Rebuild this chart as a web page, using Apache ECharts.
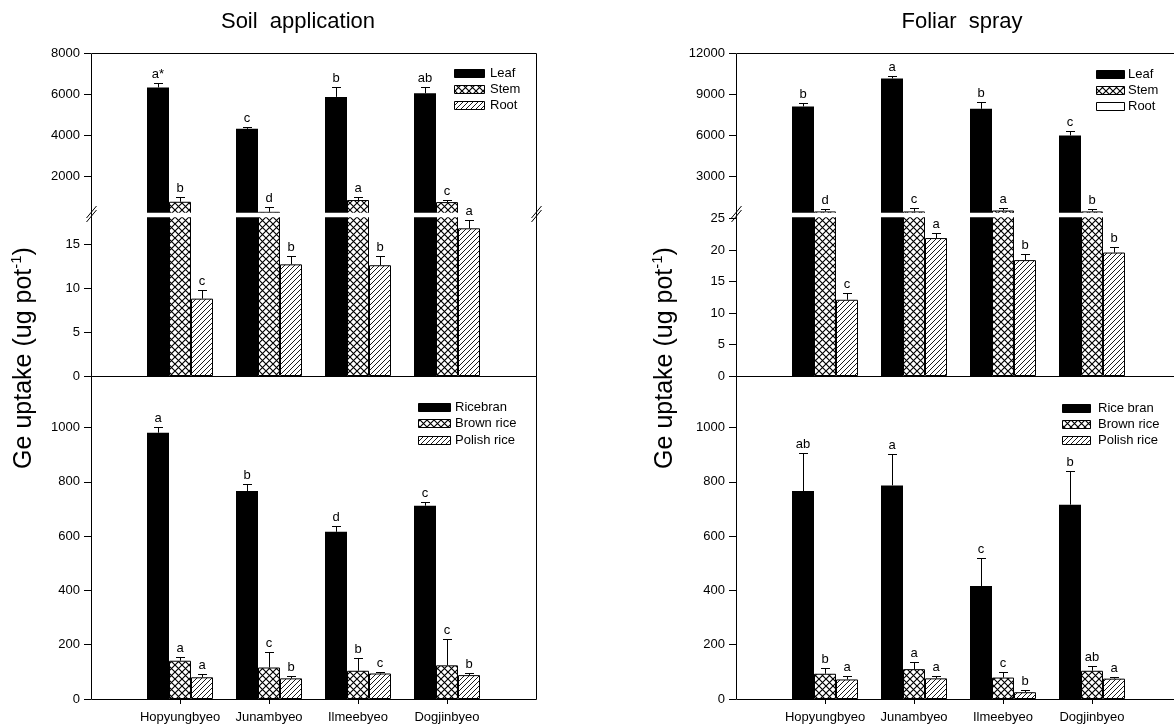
<!DOCTYPE html>
<html><head><meta charset="utf-8">
<script src="https://cdn.jsdelivr.net/npm/echarts@6/dist/echarts.min.js"></script>
<style>html,body{margin:0;padding:0;background:#fff}#c{width:1174px;height:727px}</style>
</head><body><div id="c"></div>
<script>
// ---------------- DATA ----------------
const categories = ['Hopyungbyeo', 'Junambyeo', 'Ilmeebyeo', 'Dogjinbyeo'];

// Soil application (left)
const soilLeaf = [6320, 4300, 5860, 6040];
const soilLeafErr = [215, 110, 460, 290];
const soilLeafLetters = ['a*', 'c', 'b', 'ab'];
const soilStem = [745, 255, 830, 730];
const soilStemErr = [245, 245, 160, 125];
const soilStemLetters = ['b', 'd', 'a', 'c'];
const soilRoot = [8.8, 12.7, 12.6, 16.8];
const soilRootErr = [1.0, 0.9, 1.1, 0.95];
const soilRootLetters = ['c', 'b', 'b', 'a'];
const soilRicebran = [981, 766, 616, 712];
const soilRicebranErr = [22, 26, 21, 13];
const soilRicebranLetters = ['a', 'b', 'd', 'c'];
const soilBrown = [141, 116, 104, 124];
const soilBrownErr = [15, 59, 46, 98];
const soilBrownLetters = ['a', 'c', 'b', 'c'];
const soilPolish = [80, 76, 94, 88];
const soilPolishErr = [11, 9, 6, 6];
const soilPolishLetters = ['a', 'b', 'c', 'b'];

// Foliar spray (right)
const folLeaf = [8090, 10140, 7920, 5970];
const folLeafErr = [250, 150, 490, 345];
const folLeafLetters = ['b', 'a', 'b', 'c'];
const folStem = [410, 410, 480, 410];
const folStemErr = [200, 250, 180, 175];
const folStemLetters = ['d', 'c', 'a', 'b'];
const folRoot = [12.1, 21.9, 18.4, 19.6];
const folRootErr = [1.0, 0.8, 1.0, 0.9];
const folRootLetters = ['c', 'a', 'b', 'b'];
const folRicebran = [766, 787, 416, 716];
const folRicebranErr = [141, 115, 102, 125];
const folRicebranLetters = ['ab', 'a', 'c', 'b'];
const folBrown = [93, 110, 79, 104];
const folBrownErr = [22, 26, 19, 16];
const folBrownLetters = ['b', 'a', 'c', 'ab'];
const folPolish = [72, 76, 25, 75];
const folPolishErr = [11, 10, 7, 5];
const folPolishLetters = ['a', 'a', 'b', 'a'];

// tick labels
const soilUpperTicks = [2000, 4000, 6000, 8000];
const folUpperTicks = [3000, 6000, 9000, 12000];
const soilBreakTicks = [0, 5, 10, 15];
const folBreakTicks = [0, 5, 10, 15, 20, 25];
const bottomTicks = [0, 200, 400, 600, 800, 1000];

const titles = ['Soil  application', 'Foliar  spray'];
const upperLegend = [['Leaf', 'Stem', 'Root'], ['Leaf', 'Stem', 'Root']];
const lowerLegend = [['Ricebran', 'Brown rice', 'Polish rice'], ['Rice bran', 'Brown rice', 'Polish rice']];

// ---------------- LAYOUT / STYLE ----------------
const FONT = '"Liberation Sans", Arial, sans-serif';
const GX = [91, 736], GW = 445;
const SEG_TOP = 53, SEG_H = 162, LOW_TOP = 216, LOW_H = 160, BOT_TOP = 376, BOT_H = 323;
const BAR_W = 22;

function makeCross() {
  const c = document.createElement('canvas'); c.width = c.height = 7;
  const g = c.getContext('2d'); g.fillStyle = '#fff'; g.fillRect(0, 0, 7, 7);
  g.strokeStyle = '#000'; g.lineWidth = 1.15; g.beginPath();
  g.moveTo(0, 0); g.lineTo(7, 7); g.moveTo(7, 0); g.lineTo(0, 7); g.stroke();
  return c;
}
function makeHatch() {
  const c = document.createElement('canvas'); c.width = c.height = 5;
  const g = c.getContext('2d'); g.fillStyle = '#fff'; g.fillRect(0, 0, 5, 5);
  g.strokeStyle = '#000'; g.lineWidth = 0.9; g.beginPath();
  g.moveTo(0, 5); g.lineTo(5, 0); g.moveTo(-1, 1); g.lineTo(1, -1); g.moveTo(4, 6); g.lineTo(6, 4); g.stroke();
  return c;
}
const crossFill = { image: makeCross(), repeat: 'repeat' };
const hatchFill = { image: makeHatch(), repeat: 'repeat' };
const fills = ['#000', crossFill, hatchFill];

const panels = [
  { upper: [[soilLeaf, soilLeafErr, soilLeafLetters], [soilStem, soilStemErr, soilStemLetters], [soilRoot, soilRootErr, soilRootLetters]],
    lower: [[soilRicebran, soilRicebranErr, soilRicebranLetters], [soilBrown, soilBrownErr, soilBrownLetters], [soilPolish, soilPolishErr, soilPolishLetters]],
    upMin: 100, upMax: 8000, upTicks: soilUpperTicks, brMax: 18.2, brTicks: soilBreakTicks },
  { upper: [[folLeaf, folLeafErr, folLeafLetters], [folStem, folStemErr, folStemLetters], [folRoot, folRootErr, folRootLetters]],
    lower: [[folRicebran, folRicebranErr, folRicebranLetters], [folBrown, folBrownErr, folBrownLetters], [folPolish, folPolishErr, folPolishLetters]],
    upMin: 150, upMax: 12000, upTicks: folUpperTicks, brMax: 25.4, brTicks: folBreakTicks }
];

const xCats = [''].concat(categories, ['']);
const pad = v => ['-'].concat(v, ['-']);

const grid = [], xAxis = [], yAxis = [], series = [], graphic = [];

function yAx(gi, min, max, ticks) {
  return {
    type: 'value', gridIndex: gi, min: min, max: max,
    axisLine: { show: false }, splitLine: { show: false },
    axisTick: { show: true, length: 7, customValues: ticks, lineStyle: { color: '#000' } },
    axisLabel: { customValues: ticks, margin: 11, fontSize: 13, fontFamily: FONT, color: '#000', formatter: v => String(v) }
  };
}

function errSeries(gi, vals, errs, letters, offset) {
  return {
    type: 'custom', xAxisIndex: gi, yAxisIndex: gi, z: 70, silent: true,
    data: vals.map((v, i) => [i + 1, v, errs[i]]),
    renderItem: function (params, api) {
      const i = api.value(0), v = api.value(1), e = api.value(2);
      const b = api.coord([i, v]), t = api.coord([i, v + e]);
      const x = Math.round(b[0] + offset) + 0.5, yb = b[1], yt = Math.round(t[1]) + 0.5;
      return { type: 'group', children: [
        { type: 'line', shape: { x1: x, y1: yb, x2: x, y2: yt }, style: { stroke: '#000', lineWidth: 1 } },
        { type: 'line', shape: { x1: x - 4.5, y1: yt, x2: x + 4.5, y2: yt }, style: { stroke: '#000', lineWidth: 1 } },
        { type: 'text', x: b[0] + offset, y: yt - 3, style: { text: letters[params.dataIndex], textAlign: 'center', textVerticalAlign: 'bottom', font: '13px ' + FONT, fill: '#000' } }
      ] };
    }
  };
}

function barSeries(gi, vals, s) {
  return {
    type: 'bar', xAxisIndex: gi, yAxisIndex: gi, data: pad(vals), barWidth: BAR_W, barGap: '0%', clip: true, silent: true,
    itemStyle: { color: fills[s], borderColor: '#000', borderWidth: s === 0 ? 0 : 1 }
  };
}

panels.forEach((P, p) => {
  const base = p * 3;
  const tops = [SEG_TOP, LOW_TOP, BOT_TOP], hs = [SEG_H, LOW_H, BOT_H];
  for (let k = 0; k < 3; k++) {
    grid.push({ left: GX[p], top: tops[k], width: GW, height: hs[k], containLabel: false, outerBoundsMode: 'none' });
    xAxis.push({
      type: 'category', gridIndex: base + k, data: xCats, boundaryGap: false, show: k === 2,
      axisLine: { show: false },
      axisTick: { show: true, length: 5, interval: (i) => i >= 1 && i <= 4, lineStyle: { color: '#000' } },
      axisLabel: { interval: 0, margin: 12, fontSize: 13, fontFamily: FONT, color: '#000' }
    });
  }
  yAxis.push(yAx(base, P.upMin, P.upMax, P.upTicks));
  yAxis.push(yAx(base + 1, 0, P.brMax, P.brTicks));
  yAxis.push(yAx(base + 2, 0, 1190, bottomTicks));

  const offs = [-BAR_W, 0, BAR_W];
  for (let g = 0; g < 2; g++) {
    P.upper.forEach((d, s) => series.push(barSeries(base + g, d[0], s)));
  }
  series.push(errSeries(base, P.upper[0][0], P.upper[0][1], P.upper[0][2], offs[0]));
  series.push(errSeries(base, P.upper[1][0], P.upper[1][1], P.upper[1][2], offs[1]));
  series.push(errSeries(base + 1, P.upper[2][0], P.upper[2][1], P.upper[2][2], offs[2]));
  P.lower.forEach((d, s) => series.push(barSeries(base + 2, d[0], s)));
  P.lower.forEach((d, s) => series.push(errSeries(base + 2, d[0], d[1], d[2], offs[s])));

  const x0 = GX[p], x1 = GX[p] + GW;
  graphic.push({ type: 'rect', z: 60, shape: { x: x0 + 0.5, y: SEG_TOP + 0.5, width: GW, height: BOT_TOP - SEG_TOP }, style: { fill: 'none', stroke: '#000', lineWidth: 1 } });
  graphic.push({ type: 'rect', z: 60, shape: { x: x0 + 0.5, y: BOT_TOP + 0.5, width: GW, height: BOT_H }, style: { fill: 'none', stroke: '#000', lineWidth: 1 } });
  graphic.push({ type: 'rect', z: 55, shape: { x: x0 + 1, y: 212.8, width: GW - 1, height: 4.4 }, style: { fill: '#fff' } });
  [x0 + 0.5, x1 + 0.5].forEach(bx => {
    graphic.push({ type: 'line', z: 61, shape: { x1: bx - 5, y1: 218, x2: bx + 5, y2: 206 }, style: { stroke: '#000', lineWidth: 1 } });
    graphic.push({ type: 'line', z: 61, shape: { x1: bx - 5, y1: 222, x2: bx + 5, y2: 210 }, style: { stroke: '#000', lineWidth: 1 } });
  });
});

graphic.push({ type: 'text', x: 298, y: 22, style: { text: titles[0], font: '22px ' + FONT, fill: '#000', textAlign: 'center', textVerticalAlign: 'middle' } });
graphic.push({ type: 'text', x: 962, y: 22, style: { text: titles[1], font: '22px ' + FONT, fill: '#000', textAlign: 'center', textVerticalAlign: 'middle' } });
[24, 665].forEach(yx => {
  graphic.push({ type: 'text', x: yx, y: 358, rotation: Math.PI / 2, style: {
    text: 'Ge uptake (ug pot{sup|-1})', font: '25px ' + FONT, fill: '#000', textAlign: 'center', textVerticalAlign: 'middle',
    rich: { sup: { fontSize: 15, fontFamily: FONT, verticalAlign: 'top', lineHeight: 29, fill: '#000' } }
  } });
});

function legend(x, w, ys, textX, labels, swFills) {
  labels.forEach((lab, i) => {
    graphic.push({ type: 'rect', z: 62, shape: { x: x + 0.5, y: ys[i] - 4 + 0.5, width: w, height: 8 }, style: { fill: swFills[i], stroke: '#000', lineWidth: 1 } });
    graphic.push({ type: 'text', z: 62, x: textX, y: ys[i], style: { text: lab, font: '13px ' + FONT, fill: '#000', textVerticalAlign: 'middle' } });
  });
}
legend(454, 30, [73, 89, 105], 490, upperLegend[0], fills);
legend(418, 32, [407, 423, 440], 455, lowerLegend[0], fills);
legend(1096, 28, [74, 90, 106], 1128, upperLegend[1], ['#000', crossFill, '#fff']);
legend(1062, 28, [408, 424, 440], 1098, lowerLegend[1], fills);

const chart = echarts.init(document.getElementById('c'), null, { renderer: 'canvas' });
chart.setOption({ animation: false, backgroundColor: '#fff', grid, xAxis, yAxis, series, graphic });
</script></body></html>
